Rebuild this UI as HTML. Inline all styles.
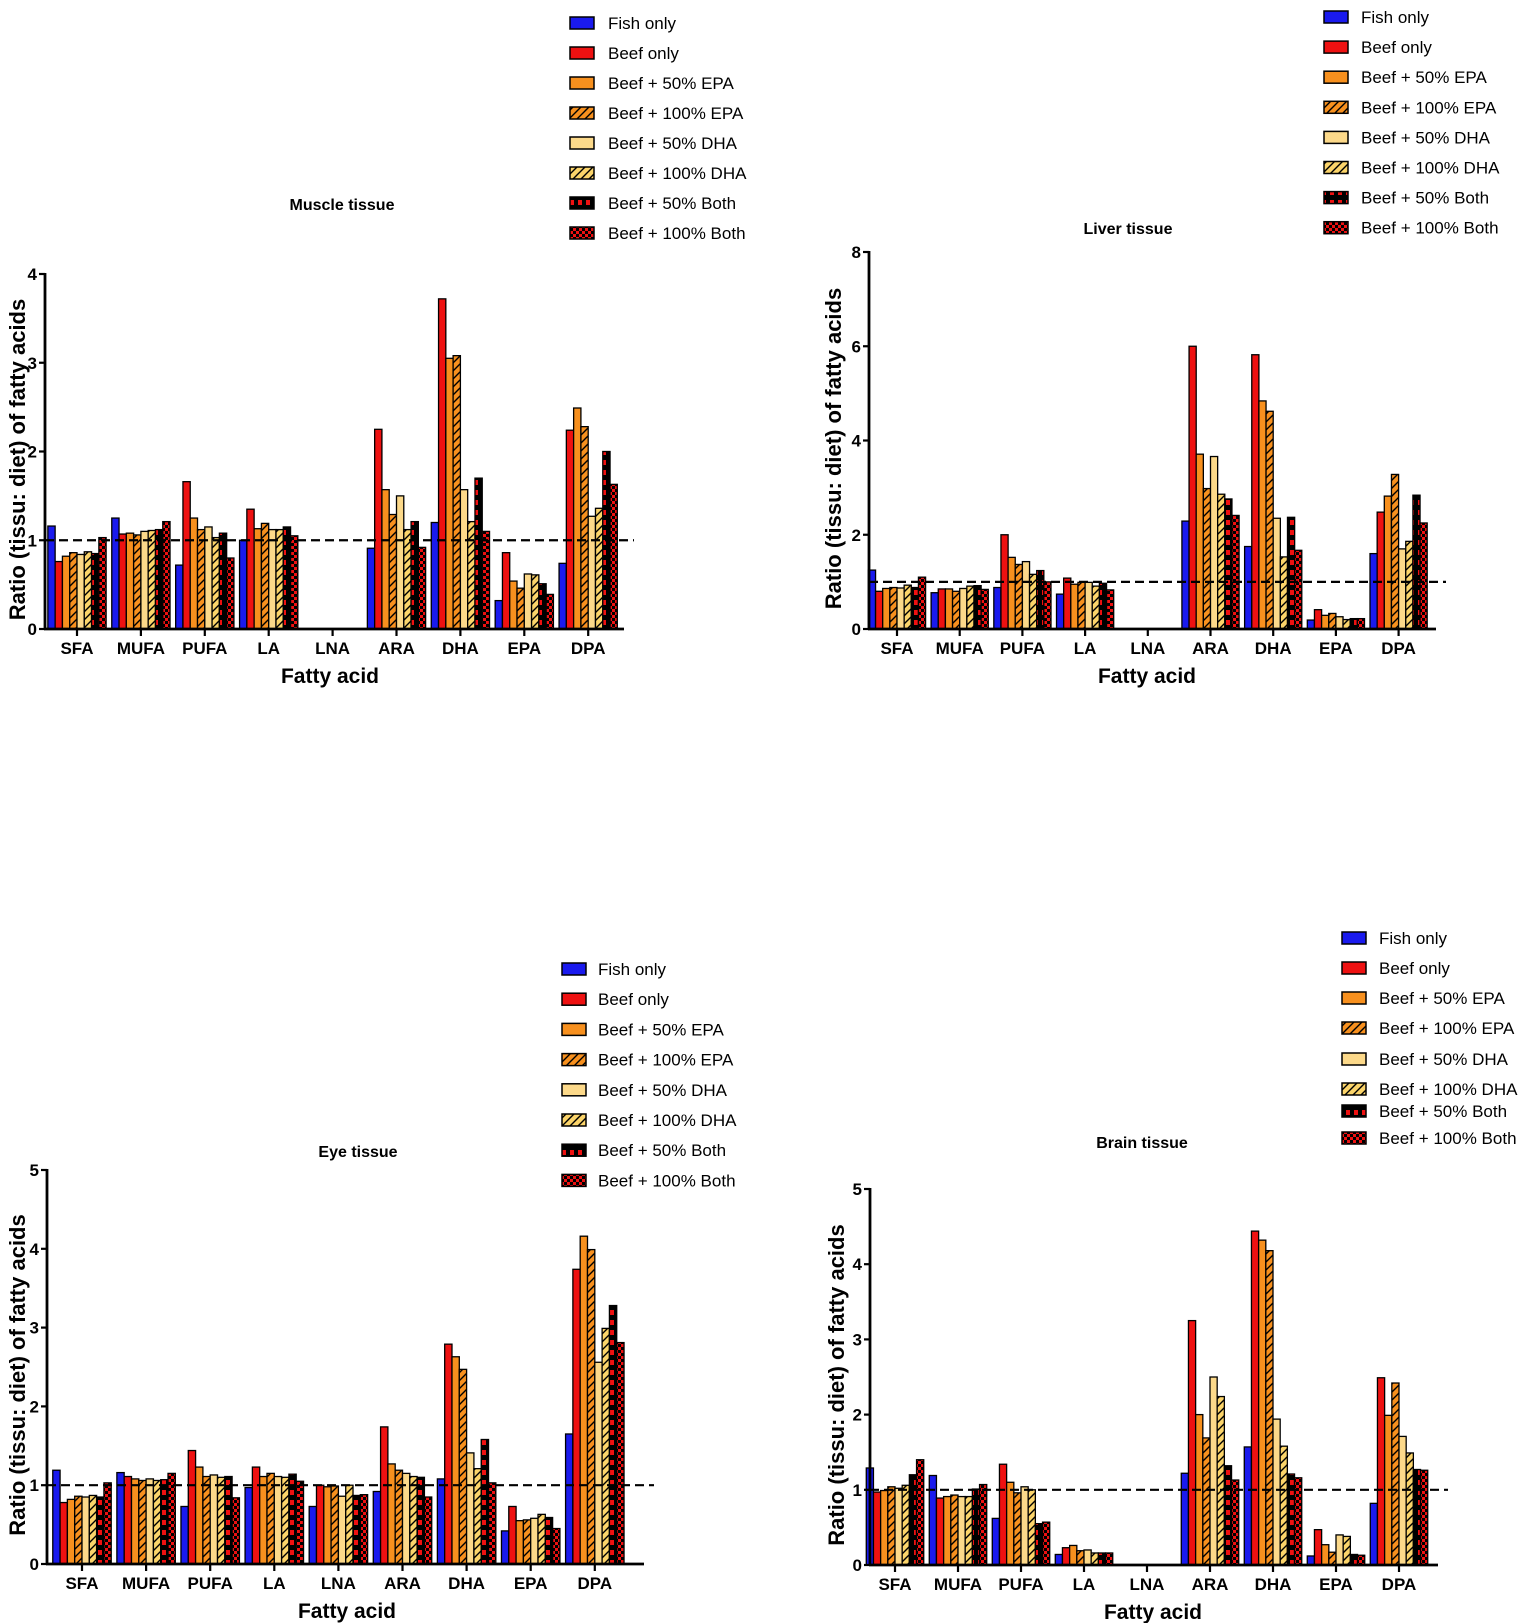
<!DOCTYPE html>
<html><head><meta charset="utf-8"><style>
html,body{margin:0;padding:0;background:#fff;}
svg{display:block;font-family:"Liberation Sans",Arial,sans-serif;}
</style></head><body>
<svg id="fig" width="1535" height="1623" viewBox="0 0 1535 1623" xmlns="http://www.w3.org/2000/svg">
<defs>
<pattern id="p-epa100" patternUnits="userSpaceOnUse" width="8" height="8"><rect width="8" height="8" fill="#f7901e"/><path d="M0 8L8 0M-2 2L2 -2M6 10L10 6" stroke="#000" stroke-width="1.4"/></pattern>
<pattern id="p-dha100" patternUnits="userSpaceOnUse" width="8" height="8"><rect width="8" height="8" fill="#fbd46a"/><path d="M0 8L8 0M-2 2L2 -2M6 10L10 6" stroke="#000" stroke-width="1.4"/></pattern>
<pattern id="p-both50" patternUnits="userSpaceOnUse" width="8" height="10"><rect width="8" height="10" fill="#000"/><rect x="2" y="0" width="4" height="5" fill="#ee1111"/></pattern>
<pattern id="p-both100" patternUnits="userSpaceOnUse" width="6" height="6"><rect width="6" height="6" fill="#ee1111"/><rect width="3" height="3" fill="#000"/><rect x="3" y="3" width="3" height="3" fill="#000"/></pattern>
</defs>
<g id="root"></g>
</svg>
<script>
const categories = ["SFA","MUFA","PUFA","LA","LNA","ARA","DHA","EPA","DPA"];
const seriesNames = ["Fish only","Beef only","Beef + 50% EPA","Beef + 100% EPA","Beef + 50% DHA","Beef + 100% DHA","Beef + 50% Both","Beef + 100% Both"];
const seriesFills = ["#1a1aee","#ee1111","#f7901e","url(#p-epa100)","#fcd98a","url(#p-dha100)","url(#p-both50)","url(#p-both100)"];

const muscleValues = [
 [1.16,0.76,0.82,0.86,0.84,0.87,0.85,1.03],
 [1.25,1.07,1.08,1.06,1.10,1.11,1.12,1.21],
 [0.72,1.66,1.25,1.12,1.15,1.03,1.08,0.80],
 [1.00,1.35,1.13,1.19,1.12,1.12,1.15,1.05],
 [0,0,0,0,0,0,0,0],
 [0.91,2.25,1.57,1.29,1.50,1.12,1.21,0.92],
 [1.20,3.72,3.05,3.08,1.57,1.21,1.70,1.10],
 [0.32,0.86,0.54,0.46,0.62,0.61,0.51,0.39],
 [0.74,2.24,2.49,2.28,1.27,1.36,2.00,1.63]];
const liverValues = [
 [1.25,0.80,0.86,0.88,0.87,0.93,0.88,1.10],
 [0.77,0.85,0.85,0.80,0.86,0.91,0.92,0.84],
 [0.88,2.00,1.52,1.37,1.43,1.16,1.24,1.00],
 [0.74,1.08,0.95,0.99,0.99,0.91,0.97,0.83],
 [0,0,0,0,0,0,0,0],
 [2.29,6.00,3.71,2.98,3.66,2.86,2.76,2.41],
 [1.75,5.82,4.84,4.62,2.35,1.53,2.37,1.67],
 [0.19,0.41,0.29,0.33,0.26,0.20,0.22,0.22],
 [1.60,2.48,2.82,3.28,1.70,1.86,2.84,2.25]];
const eyeValues = [
 [1.19,0.78,0.82,0.86,0.85,0.87,0.85,1.03],
 [1.16,1.11,1.08,1.06,1.08,1.06,1.07,1.15],
 [0.73,1.44,1.23,1.11,1.13,1.10,1.11,0.84],
 [0.97,1.23,1.11,1.15,1.11,1.10,1.14,1.05],
 [0.73,1.00,0.98,0.99,0.86,1.00,0.87,0.88],
 [0.92,1.74,1.27,1.19,1.15,1.11,1.10,0.85],
 [1.08,2.79,2.63,2.47,1.41,1.21,1.58,1.03],
 [0.42,0.73,0.55,0.56,0.58,0.63,0.59,0.45],
 [1.65,3.74,4.16,3.99,2.56,2.99,3.28,2.81]];
const brainValues = [
 [1.29,0.97,0.99,1.04,1.02,1.06,1.20,1.40],
 [1.19,0.89,0.91,0.93,0.91,0.91,1.01,1.07],
 [0.62,1.34,1.10,0.96,1.04,1.00,0.55,0.57],
 [0.14,0.23,0.26,0.19,0.20,0.16,0.16,0.16],
 [0,0,0,0,0,0,0,0],
 [1.22,3.25,2.00,1.69,2.50,2.24,1.32,1.13],
 [1.57,4.44,4.32,4.18,1.94,1.58,1.21,1.16],
 [0.12,0.47,0.27,0.17,0.40,0.38,0.14,0.13],
 [0.82,2.49,1.99,2.42,1.71,1.49,1.27,1.26]];
const muscleTicks = [0,1,2,3,4];
const liverTicks = [0,2,4,6,8];
const eyeTicks = [0,1,2,3,4,5];
const brainTicks = [0,1,2,3,4,5];
const referenceValue = 1;

const NS = "http://www.w3.org/2000/svg";
const root = document.getElementById('root');
function mk(tag, attrs, parent){const e=document.createElementNS(NS,tag);for(const k in attrs)e.setAttribute(k,attrs[k]);(parent||root).appendChild(e);return e;}

function chart(cfg){
  const g = mk('g',{});
  
  
  const ymax = cfg.ticks[cfg.ticks.length-1];
  const yS = v => cfg.y0 - (v/ymax)*(cfg.y0-cfg.yTop);
  const xC = i => cfg.c0 + i*cfg.step;
  const bw = cfg.step*0.114;
  cfg.values.forEach((grp,i)=>{
    grp.forEach((v,s)=>{
      if(v<=0) return;
      const x = xC(i) - 4*bw + s*bw;
      const r = mk('rect',{x:x.toFixed(2),y:yS(v).toFixed(2),width:bw.toFixed(2),height:(cfg.y0-yS(v)).toFixed(2),fill:seriesFills[s],stroke:'#000','stroke-width':1.3},g);
      
      
    });
  });
  const rl = mk('line',{x1:cfg.x0,x2:cfg.xEnd+10,y1:yS(referenceValue),y2:yS(referenceValue),stroke:'#000','stroke-width':2.2,'stroke-dasharray':'9,5'},g);
  
  
  const ya = mk('line',{x1:cfg.x0,x2:cfg.x0,y1:cfg.yTop-1,y2:cfg.y0+1,stroke:'#000','stroke-width':2.8},g);
  
  
  const xa = mk('line',{x1:cfg.x0-1,x2:cfg.xEnd,y1:cfg.y0,y2:cfg.y0,stroke:'#000','stroke-width':2.8},g);
  
  
  cfg.ticks.forEach(t=>{
    mk('line',{x1:cfg.x0-6,x2:cfg.x0,y1:yS(t),y2:yS(t),stroke:'#000','stroke-width':2.2},g);
    const tl = mk('text',{x:cfg.x0-8,y:yS(t)+6,'text-anchor':'end','font-size':17,'font-weight':'bold'},g);
    tl.textContent = t;
    
    
  });
  categories.forEach((c,i)=>{
    mk('line',{x1:xC(i),x2:xC(i),y1:cfg.y0,y2:cfg.y0+7,stroke:'#000','stroke-width':2.2},g);
    const tl = mk('text',{x:xC(i),y:cfg.y0+25,'text-anchor':'middle','font-size':17,'font-weight':'bold'},g);
    tl.textContent = c;
    
    
  });
  const xt = mk('text',{x:cfg.xTitleX,y:cfg.y0+54,'text-anchor':'middle','font-size':21,'font-weight':'bold'},g);
  xt.textContent = 'Fatty acid';
  
  
  const yc = (cfg.y0+cfg.yTop)/2 + 8;
  const yt = mk('text',{x:cfg.yTitleX,y:yc,'text-anchor':'middle','font-size':22,'font-weight':'bold',transform:'rotate(-90 '+cfg.yTitleX+' '+yc+')'},g);
  yt.textContent = 'Ratio (tissu: diet) of fatty acids';
  
  
  const tt = mk('text',{x:cfg.titleX,y:cfg.titleY,'text-anchor':'middle','font-size':16,'font-weight':'bold'},g);
  tt.textContent = cfg.title;
  
  
  const lg = mk('g',{},g);
  
  
  seriesNames.forEach((n,s)=>{
    const y = cfg.legRows[s];
    const sw = mk('rect',{x:cfg.legX,y:y-6,width:24,height:12,fill:seriesFills[s],stroke:'#000','stroke-width':1.5},lg);
    
    
    const lt = mk('text',{x:cfg.legTextX,y:y+6,'font-size':17},lg);
    lt.textContent = n;
    
    
  });
}
function rows(a,d){const r=[];for(let i=0;i<8;i++)r.push(a+i*d);return r;}
chart({name:'muscle',title:'Muscle tissue',values:muscleValues,ticks:muscleTicks,x0:45,xEnd:624,y0:629,yTop:274,c0:77,step:63.9,xTitleX:330,yTitleX:25,titleX:342,titleY:210,legX:570,legTextX:608,legRows:rows(23,30)});
chart({name:'liver',title:'Liver tissue',values:liverValues,ticks:liverTicks,x0:869,xEnd:1436,y0:629,yTop:252,c0:897,step:62.7,xTitleX:1147,yTitleX:841,titleX:1128,titleY:234,legX:1324,legTextX:1361,legRows:rows(17,30.1)});
chart({name:'eye',title:'Eye tissue',values:eyeValues,ticks:eyeTicks,x0:47,xEnd:644,y0:1564,yTop:1170,c0:82,step:64.1,xTitleX:347,yTitleX:25,titleX:358,titleY:1157,legX:562,legTextX:598,legRows:rows(969,30.2)});
chart({name:'brain',title:'Brain tissue',values:brainValues,ticks:brainTicks,x0:870,xEnd:1438,y0:1565,yTop:1189,c0:895,step:63.0,xTitleX:1153,yTitleX:844,titleX:1142,titleY:1148,legX:1342,legTextX:1379,legRows:[938,968,998,1028,1059,1089,1111,1138]});
</script>
</body></html>
